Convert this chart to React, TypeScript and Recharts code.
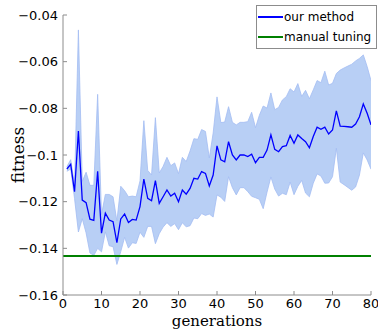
import {
  Area,
  ComposedChart,
  Legend,
  Line,
  ReferenceLine,
  XAxis,
  YAxis,
} from "recharts";

const generations = [
  1, 2, 3, 4, 5, 6, 7, 8, 9, 10, 11, 12, 13, 14, 15, 16, 17, 18, 19, 20,
  21, 22, 23, 24, 25, 26, 27, 28, 29, 30, 31, 32, 33, 34, 35, 36, 37, 38, 39, 40,
  41, 42, 43, 44, 45, 46, 47, 48, 49, 50, 51, 52, 53, 54, 55, 56, 57, 58, 59, 60,
  61, 62, 63, 64, 65, 66, 67, 68, 69, 70, 71, 72, 73, 74, 75, 76, 77, 78, 79, 80,
];

// mean fitness of "our method" per generation
const meanFitness = [
  -0.106, -0.104, -0.1157, -0.0897, -0.1193, -0.1204, -0.1275, -0.128, -0.107, -0.1335,
  -0.1249, -0.1279, -0.1286, -0.1376, -0.1274, -0.1253, -0.1289, -0.1276, -0.1279, -0.1221,
  -0.1103, -0.1186, -0.1196, -0.111, -0.1207, -0.1179, -0.115, -0.1176, -0.1164, -0.12,
  -0.115, -0.1168, -0.1143, -0.11, -0.1103, -0.1071, -0.1079, -0.1133, -0.1086, -0.0961,
  -0.1021, -0.1029, -0.0943, -0.1, -0.1021, -0.1, -0.1, -0.1007, -0.0997, -0.1033,
  -0.101, -0.101, -0.0979, -0.0914, -0.0976, -0.0986, -0.0964, -0.096, -0.0916, -0.095,
  -0.0914, -0.0929, -0.0943, -0.0969, -0.0921, -0.0881, -0.089, -0.0881, -0.091, -0.0893,
  -0.0811, -0.0876, -0.0877, -0.0879, -0.0881, -0.0867, -0.0836, -0.0781, -0.0821, -0.0871,
];

// spread (std) shown as the shaded band
const stdFitness = [
  0.001, 0.002, 0.003, 0.0433, 0.008, 0.013, 0.0145, 0.015, 0.033, 0.008,
  0.008, 0.011, 0.0107, 0.0093, 0.014, 0.01, 0.011, 0.01, 0.01, 0.011,
  0.025, 0.012, 0.011, 0.027, 0.013, 0.013, 0.014, 0.013, 0.013, 0.012,
  0.014, 0.014, 0.016, 0.017, 0.017, 0.018, 0.018, 0.012, 0.018, 0.021,
  0.016, 0.017, 0.015, 0.014, 0.015, 0.014, 0.014, 0.015, 0.018, 0.015,
  0.018, 0.022, 0.018, 0.018, 0.017, 0.019, 0.02, 0.021, 0.02, 0.022,
  0.022, 0.018, 0.022, 0.021, 0.02, 0.02, 0.02, 0.024, 0.021, 0.02,
  0.016, 0.024, 0.025, 0.026, 0.027, 0.027, 0.025, 0.021, 0.02, 0.019,
];

const manualTuning = -0.1433;

const xTicks = [0, 10, 20, 30, 40, 50, 60, 70, 80];
const yTicks = [-0.16, -0.14, -0.12, -0.1, -0.08, -0.06, -0.04];
const yTickLabels = ["\u22120.16", "\u22120.14", "\u22120.12", "\u22120.1", "\u22120.08", "\u22120.06", "\u22120.04"];

const seriesNames = ["our method", "manual tuning"];
const seriesColors = ["#0000ff", "#008000"];

const data = generations.map((g, i) => ({
  g,
  mean: meanFitness[i],
  band: [meanFitness[i] - stdFitness[i], meanFitness[i] + stdFitness[i]],
}));

const tickStyle = { fill: "#000", fontSize: 13, fontFamily: "DejaVu Sans" };
const titleFont = "DejaVu Serif";

function formatY(v: number) {
  let best = 0;
  yTicks.forEach((t, i) => {
    if (Math.abs(t - v) < Math.abs(yTicks[best] - v)) best = i;
  });
  return yTickLabels[best];
}

function LegendBox() {
  return (
    <div
      style={{
        border: "1px solid #8c8c8c",
        background: "#fff",
        padding: "1px 2px 1px 1px",
        fontFamily: "DejaVu Sans",
        fontSize: 12,
        color: "#000",
      }}
    >
      {seriesNames.map((name, i) => (
        <div
          key={name}
          style={{ display: "flex", alignItems: "center", height: 20 }}
        >
          <span
            style={{
              display: "inline-block",
              width: 25,
              height: i === 0 ? 1.3 : 2,
              background: seriesColors[i],
              marginRight: 1,
            }}
          />
          <span>{name}</span>
        </div>
      ))}
    </div>
  );
}

export default function App() {
  return (
    <div
      style={{
        position: "absolute",
        left: 0,
        top: 0,
        width: 378,
        height: 330,
        background: "#fff",
      }}
    >
      <ComposedChart
        width={378}
        height={330}
        data={data}
        margin={{ top: 15, right: 7, bottom: 0, left: 0 }}
      >
        <XAxis
          dataKey="g"
          type="number"
          domain={[0, 80]}
          ticks={xTicks}
          allowDataOverflow
          height={35}
          stroke="#8c8c8c"
          tickSize={-4}
          tickMargin={8}
          tick={tickStyle}
          label={{
            value: "generations",
            position: "insideBottom",
            offset: 4,
            fill: "#000",
            fontSize: 15,
            fontFamily: titleFont,
          }}
        />
        <YAxis
          type="number"
          domain={[-0.16, -0.04]}
          ticks={yTicks}
          allowDataOverflow
          width={63}
          stroke="#8c8c8c"
          tickSize={-4}
          tickMargin={9}
          tick={tickStyle}
          tickFormatter={formatY}
          label={(props: any) => {
            const vb = props.viewBox || { x: 0, y: 15, height: 280 };
            const cx = vb.x + 24;
            const cy = vb.y + vb.height / 2;
            return (
              <text
                x={cx}
                y={cy}
                textAnchor="middle"
                transform={`rotate(-90, ${cx}, ${cy})`}
                fill="#000"
                fontSize={17}
                fontFamily={titleFont}
              >
                fitness
              </text>
            );
          }}
        />
        <Area
          type="linear"
          dataKey="band"
          stroke="#a3bdf3"
          strokeWidth={0.8}
          fill="#b8cff5"
          fillOpacity={1}
          legendType="none"
          isAnimationActive={false}
        />
        <ReferenceLine
          y={manualTuning}
          stroke={seriesColors[1]}
          strokeWidth={2}
        />
        <Line
          type="linear"
          dataKey="mean"
          stroke={seriesColors[0]}
          strokeWidth={1.3}
          dot={false}
          isAnimationActive={false}
        />
        <Legend
          layout="vertical"
          align="center"
          verticalAlign="middle"
          width={121}
          wrapperStyle={{ top: 5, left: 256, width: 121 }}
          content={() => <LegendBox />}
        />
      </ComposedChart>
    </div>
  );
}
